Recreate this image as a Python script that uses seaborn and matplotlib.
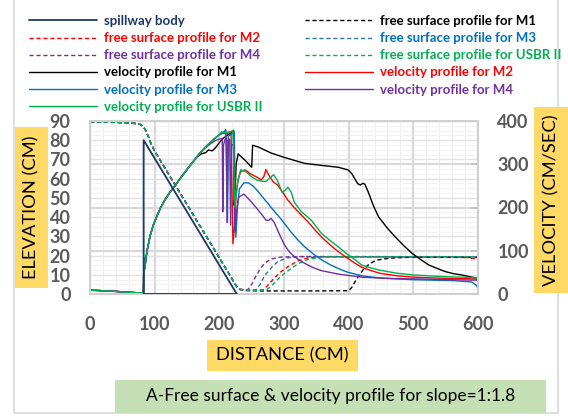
import numpy as np
import pandas as pd
import matplotlib
matplotlib.use("Agg")
import matplotlib.pyplot as plt
import seaborn as sns
from matplotlib.patches import Rectangle
from matplotlib.lines import Line2D

# ---------------- data ----------------
spill_x = [83, 83, 227, 83]
spill_y = [0, 80, 0, 0]

# free surface, common upstream part (elevation, cm)
fs_up_x = [0, 30, 55, 70, 78, 83, 87, 91, 95, 100, 110, 120, 140, 160, 180, 200, 210, 218, 224, 228]
fs_up_y = [89.5, 89.4, 89.1, 88.7, 88.2, 86.8, 84.5, 81.2, 77.6, 74.3, 68.8, 63.2, 52.1, 41.0, 29.9, 18.8, 13.3, 8.8, 5.3, 3.2]

fs_m1_x = [232, 240, 260, 300, 350, 400, 405, 410, 415, 422, 430, 438, 446, 460, 476, 500, 600]
fs_m1_y = [2.4, 1.8, 1.6, 1.6, 1.6, 1.7, 3.5, 6.5, 9.0, 12.5, 15.0, 16.8, 17.8, 18.5, 18.9, 19.1, 19.0]
fs_m2_x = [232, 245, 258, 268, 275, 285, 295, 306, 322, 337, 355, 560, 585, 600]
fs_m2_y = [2.4, 2.0, 1.9, 2.2, 4.5, 8.3, 11.5, 14.2, 17.3, 18.8, 19.3, 19.3, 18.9, 18.2]
fs_m3_x = [232, 245, 257, 263, 270, 280, 290, 305, 325, 600]
fs_m3_y = [2.4, 2.0, 2.3, 5.0, 9.5, 13.5, 16.8, 18.8, 19.4, 19.4]
fs_m4_x = [232, 238, 244, 250, 256, 263, 270, 280, 295, 320, 600]
fs_m4_y = [2.4, 2.0, 2.3, 5.0, 9.0, 13.0, 16.0, 18.2, 19.2, 19.5, 19.4]
fs_us_x = [232, 250, 262, 273, 280, 290, 301, 312, 322, 337, 355, 370, 600]
fs_us_y = [2.4, 2.0, 1.9, 2.2, 4.0, 7.5, 10.8, 13.5, 15.8, 18.0, 19.1, 19.4, 19.4]

# velocity, common upstream part (cm/sec)
v_up_x = [0, 40, 82, 82.7, 83.3, 84.5, 86, 88, 93, 98, 104, 109, 116, 124, 132, 140, 150, 160]
v_up_y = [9, 6, 2, 2, 83, 58, 75, 98, 135, 160, 182, 199, 218, 236, 252, 268, 288, 307]

v_m1_x = [165, 172, 179, 183, 189, 194, 200, 206, 212, 218, 222, 223, 224.5, 226, 229, 240, 250, 251.5,
          260, 280, 300, 332, 360, 384, 399, 405, 410, 414, 418, 422, 425, 430, 438, 446, 460, 472,
          485, 498, 511, 524, 537, 549, 562, 575, 600]
v_m1_y = [316, 324, 327, 333, 331, 338, 350, 360, 367, 372, 378, 205, 240, 300, 324, 309, 293, 344,
          340, 326, 316, 302, 297, 293, 287, 278, 265, 255, 252, 256, 254, 237, 205, 179, 152, 132,
          112, 94, 80, 67, 59, 52, 47, 44, 36]
v_m2_x = [170, 180, 190, 200, 205, 210, 214, 218, 219.5, 221, 223, 226, 229, 233, 240, 248, 257, 265,
          269, 272, 276, 283, 290, 298, 306, 314, 322, 337, 348, 358, 371, 384, 397, 410, 420, 435,
          448, 475, 500, 550, 595, 600]
v_m2_y = [326, 342, 356, 368, 372, 370, 373, 376, 250, 116, 150, 230, 265, 283, 287, 278, 271, 264,
          272, 288, 276, 260, 252, 235, 217, 203, 190, 167, 148, 132, 114, 98, 84, 71, 62, 54,
          48, 42, 39, 36, 35, 33]
v_m3_x = [170, 180, 190, 200, 206, 210, 212.5, 214, 219, 223, 225.5, 228, 231, 238, 245, 252, 260,
          268, 275, 280, 290, 296, 311, 322, 332, 345, 358, 371, 384, 397, 410, 420, 448, 500, 560,
          590, 596, 600]
v_m3_y = [326, 342, 356, 368, 373, 380, 165, 365, 370, 375, 131, 200, 243, 257, 257, 250, 237,
          222, 210, 200, 183, 172, 143, 124, 109, 93, 79, 68, 59, 51, 46, 42, 37, 33, 31,
          28, 22, 14]
v_m4_x = [170, 180, 187, 194, 202, 204.5, 205.3, 206.5, 209, 211, 212, 213.5, 216, 217.5, 219, 222,
          224, 226.5, 230, 238, 247, 258, 265, 272, 276, 280, 285, 290, 296, 301, 308, 316, 332,
          345, 358, 384, 420, 460, 500, 560, 600]
v_m4_y = [326, 340, 348, 355, 359, 360, 190, 345, 358, 362, 166, 355, 358, 159, 345, 345,
          143, 190, 224, 231, 217, 198, 185, 171, 170, 175, 165, 148, 128, 113, 98, 86, 71,
          61, 54, 46, 39, 36, 35, 33, 32]
v_us_x = [170, 180, 190, 200, 204, 209, 213, 217, 221, 222.5, 224, 228, 233, 241, 249, 257, 265,
          272, 278, 284, 290, 297, 302, 306, 311, 316, 327, 342, 358, 371, 384, 397, 410, 420, 435,
          448, 475, 500, 550, 595, 600]
v_us_y = [326, 342, 356, 369, 375, 372, 374, 375, 378, 300, 201, 255, 287, 283, 272, 264, 261,
          260, 268, 276, 262, 235, 240, 247, 236, 212, 190, 171, 140, 124, 109, 93, 79, 67, 60,
          55, 48, 44, 40, 38, 34]

x_ticks = [0, 100, 200, 300, 400, 500, 600]
elev_ticks = [0, 10, 20, 30, 40, 50, 60, 70, 80, 90]
vel_ticks = [0, 100, 200, 300, 400]

# ---------------- style ----------------
sns.set_theme(style="white")
plt.rcParams['font.family'] = ['Lato', 'DejaVu Sans']

W, H = 568, 416
fig = plt.figure(figsize=(W / 100, H / 100), dpi=100)
fig.patch.set_facecolor('white')

def fx(px):
    return px / W

def fy(py):
    return 1 - py / H

L, R, T, B = 90, 478, 121, 294
ax = fig.add_axes([fx(L), fy(B), fx(R - L), (B - T) / H])
ax2 = ax.twinx()

NAVY = '#1F3864'
RED = '#FF0000'
BLUE = '#0070C0'
PURPLE = '#7030A0'
GREEN = '#00B050'
BLACK = '#000000'
DASH = (0, (3, 2))

def cat(a, b):
    return np.array(list(a) + list(b), dtype=float)

handles = {}

def draw(axis, x, y, color, lw, label, ls='-', z=2):
    sns.lineplot(x=np.asarray(x, float), y=np.asarray(y, float), ax=axis, color=color,
                 lw=lw, linestyle=ls, estimator=None, sort=False, legend=False, zorder=z)
    line = axis.lines[-1]
    handles[label] = line

# free surface (elevation axis)
draw(ax, cat(fs_up_x, fs_m1_x), cat(fs_up_y, fs_m1_y), BLACK, 1.0, 'free surface profile for M1', DASH)
draw(ax, cat(fs_up_x, fs_m2_x), cat(fs_up_y, fs_m2_y), RED, 1.0, 'free surface profile for M2', DASH)
draw(ax, cat(fs_up_x, fs_m3_x), cat(fs_up_y, fs_m3_y), '#2E75B6', 1.0, 'free surface profile for M3', DASH)
draw(ax, cat(fs_up_x, fs_m4_x), cat(fs_up_y, fs_m4_y), PURPLE, 1.0, 'free surface profile for M4', DASH)
draw(ax, cat(fs_up_x, fs_us_x), cat(fs_up_y, fs_us_y), GREEN, 1.0, 'free surface profile for USBR II', DASH)

# velocities (right axis)
draw(ax2, cat(v_up_x, v_m1_x), cat(v_up_y, v_m1_y), BLACK, 1.0, 'velocity profile for M1')
draw(ax2, cat(v_up_x, v_m2_x), cat(v_up_y, v_m2_y), RED, 1.0, 'velocity profile for M2')
draw(ax2, cat(v_up_x, v_m3_x), cat(v_up_y, v_m3_y), BLUE, 1.0, 'velocity profile for M3')
draw(ax2, cat(v_up_x, v_m4_x), cat(v_up_y, v_m4_y), PURPLE, 1.0, 'velocity profile for M4')
draw(ax2, cat(v_up_x, v_us_x), cat(v_up_y, v_us_y), GREEN, 1.0, 'velocity profile for USBR II')

# spillway on top
draw(ax2, spill_x, [v * 400 / 90 for v in spill_y], NAVY, 1.3, 'spillway body', z=5)

# axes setup
ax.set_xlim(0, 600)
ax.set_ylim(0, 90)
ax2.set_ylim(0, 400)
ax.set_xticks(x_ticks)
ax.set_yticks(elev_ticks)
ax2.set_yticks(vel_ticks)
ax.set_xlabel('')
ax.set_ylabel('')
ax2.set_ylabel('')

# gridlines
for v in np.arange(0, 601, 20):
    ax.axvline(v, color='#EFEFEF', lw=0.8, zorder=0)
for v in np.arange(0, 91, 2.5):
    ax.axhline(v, color='#F3F3F3', lw=0.8, zorder=0)
for v in elev_ticks:
    ax.axhline(v, color='#E3E3E3', lw=1.0, zorder=0)
for v in vel_ticks:
    ax.axhline(v * 90 / 400, color='#D9D9D9', lw=1.6, zorder=0)
for v in x_ticks:
    ax.axvline(v, color='#D9D9D9', lw=1.6, zorder=0)

ax2.patch.set_visible(False)
tick_kw = dict(colors='#595959', labelsize=13)
ax.tick_params(axis='y', length=0, pad=14, **tick_kw)
ax.tick_params(axis='x', length=0, pad=16, **tick_kw)
ax2.tick_params(axis='y', direction='in', length=5, width=1.2, color='#BFBFBF', pad=14,
                labelcolor='#595959', labelsize=13)
for a in (ax, ax2):
    for lab in a.get_xticklabels() + a.get_yticklabels():
        lab.set_fontweight('bold')
    for s in a.spines.values():
        s.set_color('#D0D0D0')
        s.set_linewidth(1.4)

# legend (two columns)
col1 = ['spillway body', 'free surface profile for M2', 'free surface profile for M4',
        'velocity profile for M1', 'velocity profile for M3', 'velocity profile for USBR II']
col2 = ['free surface profile for M1', 'free surface profile for M3', 'free surface profile for USBR II',
        'velocity profile for M2', 'velocity profile for M4']
text_colors = {
    'spillway body': NAVY, 'free surface profile for M1': BLACK, 'free surface profile for M2': RED,
    'free surface profile for M3': BLUE, 'free surface profile for M4': PURPLE,
    'free surface profile for USBR II': GREEN, 'velocity profile for M1': BLACK,
    'velocity profile for M2': RED, 'velocity profile for M3': BLUE,
    'velocity profile for M4': PURPLE, 'velocity profile for USBR II': GREEN}
LFS = 9.5
lfs_px = LFS * 100 / 72
legs = []
for labels, xpx in ((col1, 29), (col2, 305)):
    leg = fig.legend([handles[k] for k in labels], labels, loc='upper left',
                     bbox_to_anchor=(fx(xpx), fy(15)), frameon=False, borderpad=0,
                     borderaxespad=0, handlelength=68 / lfs_px, handletextpad=7 / lfs_px,
                     labelspacing=0.39, prop={'size': LFS, 'weight': 'bold'})
    for t, k in zip(leg.get_texts(), labels):
        t.set_color(text_colors[k])
    legs.append(leg)

# boxed titles
def boxed(x0, y0, x1, y1, color, text, size, rot=0):
    fig.patches.append(Rectangle((fx(x0), fy(y1)), fx(x1 - x0), (y1 - y0) / H,
                                 transform=fig.transFigure, facecolor=color,
                                 edgecolor='none', zorder=1))
    fig.text(fx((x0 + x1) / 2), fy((y0 + y1) / 2), text, rotation=rot, ha='center',
             va='center', fontsize=size, color='#000000', zorder=2)

boxed(15, 127, 48, 288, '#FFD966', 'ELEVATION (CM)', 13.2, 90)
boxed(534, 107, 568, 293, '#FFD966', 'VELOCITY (CM/SEC)', 13.2, 90)
boxed(207, 340, 358, 371, '#FFD966', 'DISTANCE (CM)', 13.2)
boxed(115, 380, 546, 413, '#C5E0B4', 'A-Free surface & velocity profile for slope=1:1.8', 12.5)

# outer border
fig.patches.append(Rectangle((fx(14), fy(413)), fx(558 - 14), (413 + 5) / H,
                             transform=fig.transFigure, facecolor='none',
                             edgecolor='#D9D9D9', lw=1.2, zorder=0))

fig.savefig('out.png', dpi=100)
